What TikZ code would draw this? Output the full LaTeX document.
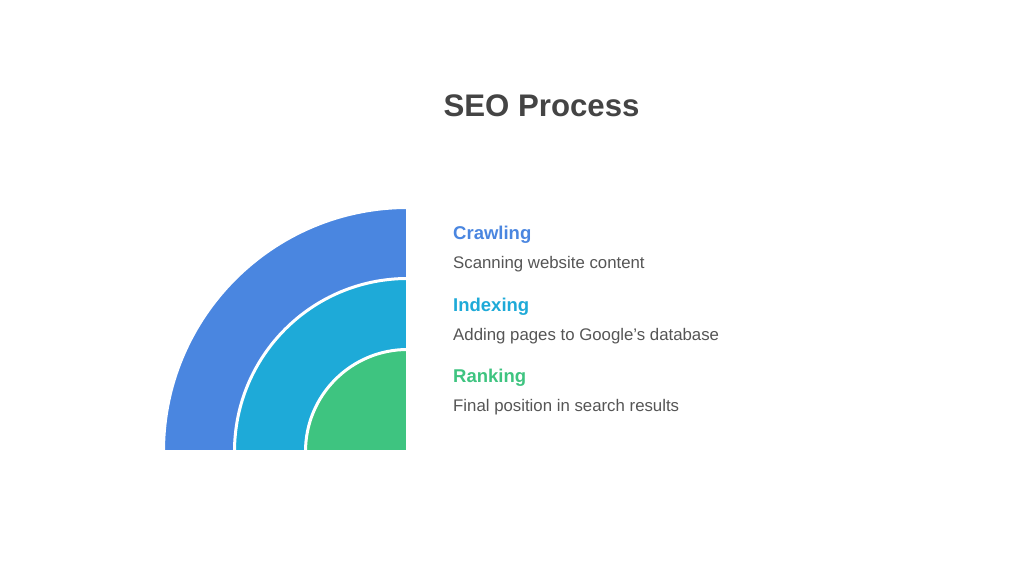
\documentclass[tikz,border=0pt]{standalone}
\usepackage{fontspec}
\setmainfont{Liberation Sans}
\usepackage{tikz}
\definecolor{crawlblue}{HTML}{4A86E0}
\definecolor{indexcyan}{HTML}{1EAAD8}
\definecolor{rankgreen}{HTML}{3EC480}
\definecolor{titlegray}{HTML}{444444}
\definecolor{textgray}{HTML}{555555}
\tikzset{
  heading/.style={anchor=base west, inner sep=0pt, font=\fontsize{18.5}{22}\selectfont\bfseries},
  desc/.style={anchor=base west, inner sep=0pt, text=textgray, font=\fontsize{16.8}{20}\selectfont}
}

\begin{document}
\begin{tikzpicture}[x=1pt,y=1pt]
\useasboundingbox[fill=white] (0,0) rectangle (1024,576);

\node[anchor=base, inner sep=0pt, text=titlegray, font=\fontsize{31.2}{36}\selectfont\bfseries] (title) at (541.5,459) {SEO Process};

\coordinate (centre) at (407.5,124.5);
\foreach \r/\col in {244/crawlblue,173/indexcyan,102/rankgreen}
    \filldraw[fill=\col, draw=white, line width=3pt]
          (centre) -- ++(180:\r pt) arc (180:90:\r pt) -- cycle;

\node[heading, text=crawlblue] (crawl) at (453,336) {Crawling};
\node[desc] (crawldesc) at (453,307) {Scanning website content};

\node[heading, text=indexcyan] (index) at (453,265) {Indexing};
\node[desc] (indexdesc) at (453,236) {Adding pages to Google's database};

\node[heading, text=rankgreen] (rank) at (453,194) {Ranking};
\node[desc] (rankdesc) at (453,165) {Final position in search results};
\end{tikzpicture}
\end{document}
